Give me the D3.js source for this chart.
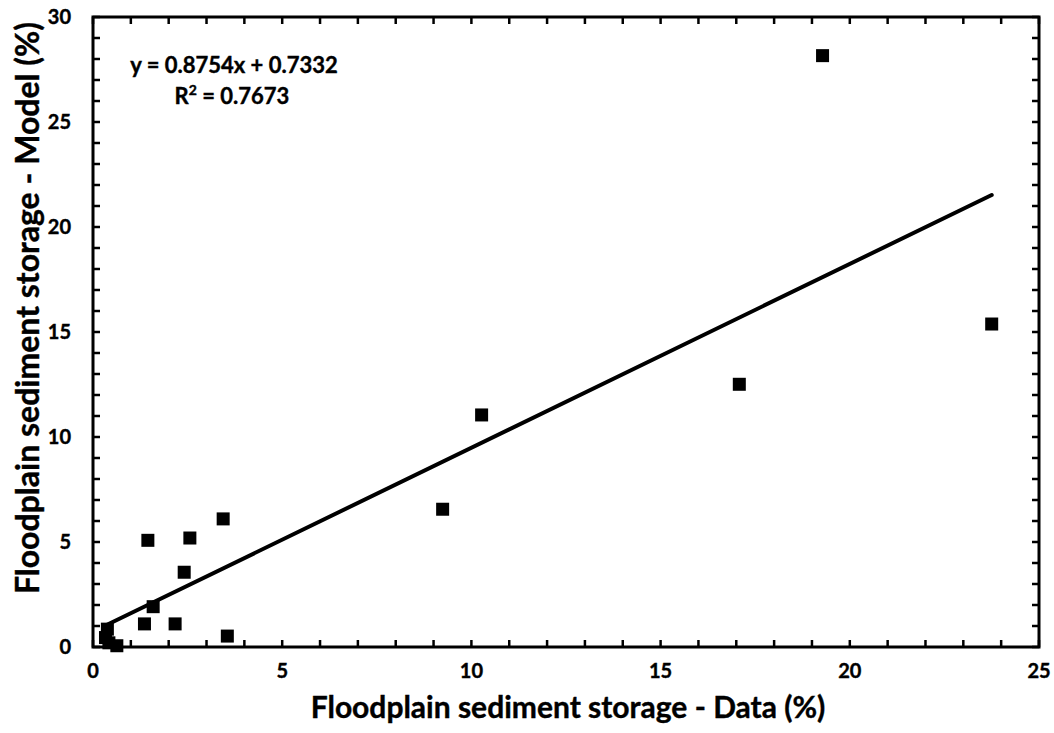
<!DOCTYPE html>
<html>
<head>
<meta charset="utf-8">
<script src="https://cdn.jsdelivr.net/npm/d3@7"></script>
<style>
  body { margin: 0; background: #fff; }
  text { font-family: Lato, "Open Sans", sans-serif; font-weight: bold; fill: #000; stroke: #000; stroke-width: 0.4px; }
</style>
</head>
<body>
<svg id="chart" width="1054" height="733"></svg>
<script>
const dataX = [0.38, 0.33, 0.42, 0.63, 1.36, 1.45, 1.59, 2.17, 2.41, 2.56, 3.44, 3.55, 9.24, 10.27, 17.08, 19.28, 23.75];
const modelY = [0.85, 0.45, 0.2, 0.06, 1.10, 5.08, 1.92, 1.10, 3.56, 5.19, 6.10, 0.52, 6.56, 11.05, 12.51, 28.16, 15.38];
const xTicks = [0, 5, 10, 15, 20, 25];
const yTicks = [0, 5, 10, 15, 20, 25, 30];
const slope = 0.8754, intercept = 0.7332;
const eqLabel = 'y = 0.8754x + 0.7332';
const r2Label = '0.7673';
const xTitle = 'Floodplain sediment storage - Data (%)';
const yTitle = 'Floodplain sediment storage - Model (%)';

const svg = d3.select('#chart');
const margin = {left: 93, top: 17, right: 15, bottom: 86};
const width = 1054 - margin.left - margin.right;
const height = 733 - margin.top - margin.bottom;

const x = d3.scaleLinear().domain([0, 25]).range([0, width]);
const y = d3.scaleLinear().domain([0, 30]).range([height, 0]);

const g = svg.append('g').attr('transform', `translate(${margin.left},${margin.top})`);

// inner ticks every 1 unit on all four sides
const minorX = d3.range(0, 26);
const minorY = d3.range(0, 31);
const tickLen = 7;
const ticks = g.append('g').attr('stroke', '#000').attr('stroke-width', 2.5);
minorX.forEach(v => {
  ticks.append('line').attr('x1', x(v)).attr('x2', x(v)).attr('y1', height).attr('y2', height - tickLen);
  ticks.append('line').attr('x1', x(v)).attr('x2', x(v)).attr('y1', 0).attr('y2', tickLen);
});
minorY.forEach(v => {
  ticks.append('line').attr('y1', y(v)).attr('y2', y(v)).attr('x1', 0).attr('x2', tickLen);
  ticks.append('line').attr('y1', y(v)).attr('y2', y(v)).attr('x1', width).attr('x2', width - tickLen);
});

// frame
g.append('rect')
  .attr('width', width).attr('height', height)
  .attr('fill', 'none').attr('stroke', '#000').attr('stroke-width', 3);

// tick labels
g.selectAll('.xlab').data(xTicks).join('text')
  .attr('class', 'xlab')
  .attr('x', d => x(d)).attr('y', height + 31)
  .attr('text-anchor', 'middle')
  .style('font-size', '20px')
  .text(d => d);

g.selectAll('.ylab').data(yTicks).join('text')
  .attr('class', 'ylab')
  .attr('x', -22).attr('y', d => y(d))
  .attr('dy', '0.35em')
  .attr('text-anchor', 'end')
  .style('font-size', '20px')
  .text(d => d);

// trend line
const xMin = d3.min(dataX), xMax = d3.max(dataX);
g.append('line')
  .attr('x1', x(xMin)).attr('y1', y(slope * xMin + intercept))
  .attr('x2', x(xMax)).attr('y2', y(slope * xMax + intercept))
  .attr('stroke', '#000').attr('stroke-width', 4).attr('stroke-linecap', 'round');

// points
const sz = 13;
g.selectAll('.pt').data(dataX).join('rect')
  .attr('class', 'pt')
  .attr('x', (d, i) => x(d) - sz / 2)
  .attr('y', (d, i) => y(modelY[i]) - sz / 2)
  .attr('width', sz).attr('height', sz)
  .attr('fill', '#000');

// equation
g.append('text')
  .attr('x', 141).attr('y', 56)
  .attr('text-anchor', 'middle')
  .style('font-size', '22px')
  .text(eqLabel);
const r2 = g.append('text')
  .attr('x', 139).attr('y', 87)
  .attr('text-anchor', 'middle')
  .style('font-size', '22px');
r2.append('tspan').text('R');
r2.append('tspan').attr('dy', -9).style('font-size', '14px').text('2');
r2.append('tspan').attr('dy', 9).text(' = ' + r2Label);

// axis titles
svg.append('text')
  .attr('x', 568).attr('y', 718)
  .attr('text-anchor', 'middle')
  .style('font-size', '30px')
  .text(xTitle);

svg.append('text')
  .attr('transform', `translate(39,308) rotate(-90)`)
  .attr('text-anchor', 'middle')
  .style('font-size', '32px')
  .text(yTitle);
</script>
</body>
</html>
